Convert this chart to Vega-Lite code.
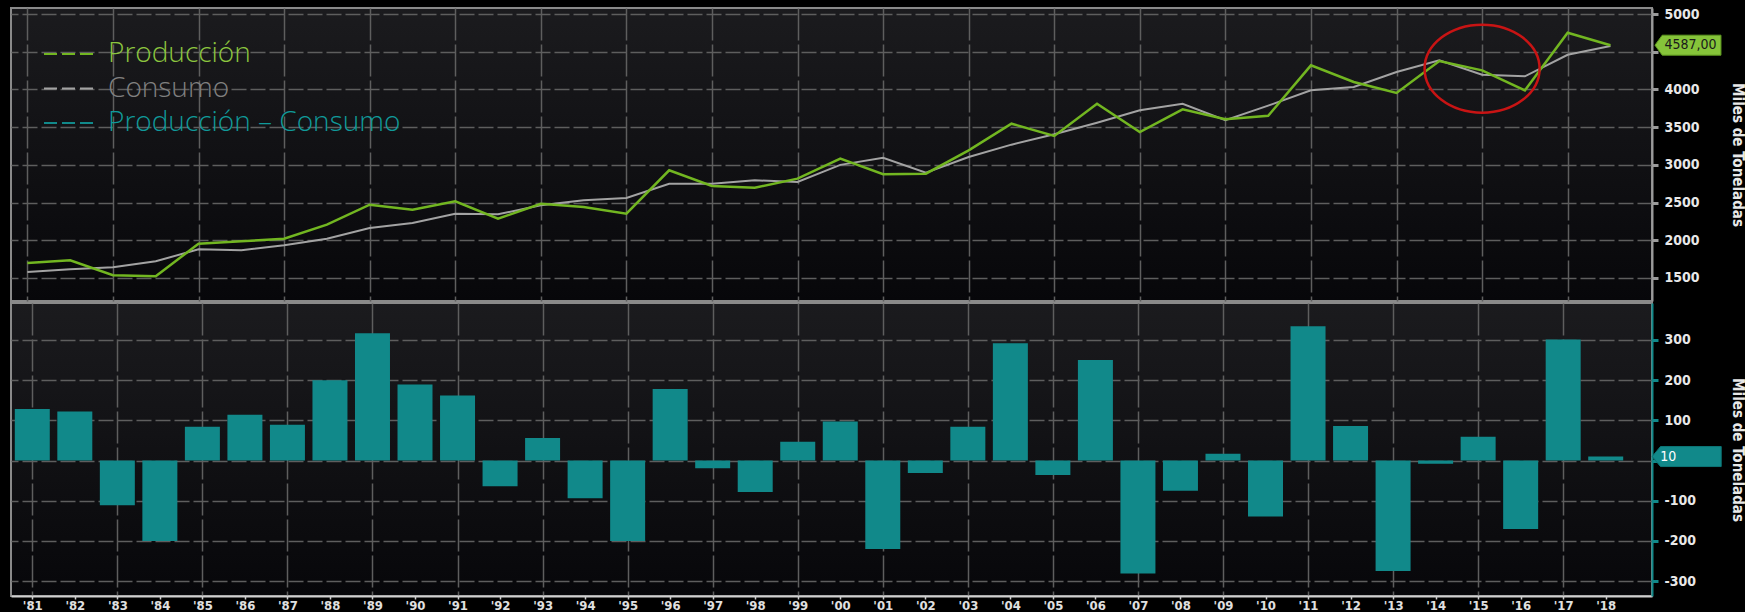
{
  "$schema": "https://vega.github.io/schema/vega-lite/v6.json",
  "background": "#000000",
  "padding": {"left": 10, "top": 6, "right": 0, "bottom": 0},
  "datasets": {
    "lineas": [
      {"anio": 1981, "serie": "Producción", "valor": 1700}, {"anio": 1982, "serie": "Producción", "valor": 1735},
      {"anio": 1983, "serie": "Producción", "valor": 1536}, {"anio": 1984, "serie": "Producción", "valor": 1523},
      {"anio": 1985, "serie": "Producción", "valor": 1955}, {"anio": 1986, "serie": "Producción", "valor": 1986},
      {"anio": 1987, "serie": "Producción", "valor": 2021}, {"anio": 1988, "serie": "Producción", "valor": 2207},
      {"anio": 1989, "serie": "Producción", "valor": 2472}, {"anio": 1990, "serie": "Producción", "valor": 2406},
      {"anio": 1991, "serie": "Producción", "valor": 2517}, {"anio": 1992, "serie": "Producción", "valor": 2286},
      {"anio": 1993, "serie": "Producción", "valor": 2485}, {"anio": 1994, "serie": "Producción", "valor": 2441},
      {"anio": 1995, "serie": "Producción", "valor": 2353}, {"anio": 1996, "serie": "Producción", "valor": 2928},
      {"anio": 1997, "serie": "Producción", "valor": 2720}, {"anio": 1998, "serie": "Producción", "valor": 2697},
      {"anio": 1999, "serie": "Producción", "valor": 2817}, {"anio": 2000, "serie": "Producción", "valor": 3082},
      {"anio": 2001, "serie": "Producción", "valor": 2875}, {"anio": 2002, "serie": "Producción", "valor": 2883},
      {"anio": 2003, "serie": "Producción", "valor": 3193}, {"anio": 2004, "serie": "Producción", "valor": 3546},
      {"anio": 2005, "serie": "Producción", "valor": 3383}, {"anio": 2006, "serie": "Producción", "valor": 3811},
      {"anio": 2007, "serie": "Producción", "valor": 3436}, {"anio": 2008, "serie": "Producción", "valor": 3736},
      {"anio": 2009, "serie": "Producción", "valor": 3604}, {"anio": 2010, "serie": "Producción", "valor": 3650},
      {"anio": 2011, "serie": "Producción", "valor": 4320}, {"anio": 2012, "serie": "Producción", "valor": 4099},
      {"anio": 2013, "serie": "Producción", "valor": 3953}, {"anio": 2014, "serie": "Producción", "valor": 4377},
      {"anio": 2015, "serie": "Producción", "valor": 4253}, {"anio": 2016, "serie": "Producción", "valor": 3988},
      {"anio": 2017, "serie": "Producción", "valor": 4752}, {"anio": 2018, "serie": "Producción", "valor": 4587},
      {"anio": 1981, "serie": "Consumo", "valor": 1580}, {"anio": 1982, "serie": "Consumo", "valor": 1615},
      {"anio": 1983, "serie": "Consumo", "valor": 1642}, {"anio": 1984, "serie": "Consumo", "valor": 1721},
      {"anio": 1985, "serie": "Consumo", "valor": 1881}, {"anio": 1986, "serie": "Consumo", "valor": 1867},
      {"anio": 1987, "serie": "Consumo", "valor": 1934}, {"anio": 1988, "serie": "Consumo", "valor": 2021},
      {"anio": 1989, "serie": "Consumo", "valor": 2163}, {"anio": 1990, "serie": "Consumo", "valor": 2229},
      {"anio": 1991, "serie": "Consumo", "valor": 2353}, {"anio": 1992, "serie": "Consumo", "valor": 2345},
      {"anio": 1993, "serie": "Consumo", "valor": 2464}, {"anio": 1994, "serie": "Consumo", "valor": 2530},
      {"anio": 1995, "serie": "Consumo", "valor": 2561}, {"anio": 1996, "serie": "Consumo", "valor": 2750},
      {"anio": 1997, "serie": "Consumo", "valor": 2750}, {"anio": 1998, "serie": "Consumo", "valor": 2795},
      {"anio": 1999, "serie": "Consumo", "valor": 2773}, {"anio": 2000, "serie": "Consumo", "valor": 3000},
      {"anio": 2001, "serie": "Consumo", "valor": 3095}, {"anio": 2002, "serie": "Consumo", "valor": 2896},
      {"anio": 2003, "serie": "Consumo", "valor": 3104}, {"anio": 2004, "serie": "Consumo", "valor": 3268},
      {"anio": 2005, "serie": "Consumo", "valor": 3405}, {"anio": 2006, "serie": "Consumo", "valor": 3559},
      {"anio": 2007, "serie": "Consumo", "valor": 3723}, {"anio": 2008, "serie": "Consumo", "valor": 3811},
      {"anio": 2009, "serie": "Consumo", "valor": 3591}, {"anio": 2010, "serie": "Consumo", "valor": 3785},
      {"anio": 2011, "serie": "Consumo", "valor": 3988}, {"anio": 2012, "serie": "Consumo", "valor": 4032},
      {"anio": 2013, "serie": "Consumo", "valor": 4231}, {"anio": 2014, "serie": "Consumo", "valor": 4386},
      {"anio": 2015, "serie": "Consumo", "valor": 4196}, {"anio": 2016, "serie": "Consumo", "valor": 4174},
      {"anio": 2017, "serie": "Consumo", "valor": 4460}, {"anio": 2018, "serie": "Consumo", "valor": 4577}
    ],
    "barras": [
      {"anio": 1981, "serie": "Producción – Consumo", "valor": 128}, {"anio": 1982, "serie": "Producción – Consumo", "valor": 122},
      {"anio": 1983, "serie": "Producción – Consumo", "valor": -111}, {"anio": 1984, "serie": "Producción – Consumo", "valor": -200},
      {"anio": 1985, "serie": "Producción – Consumo", "valor": 84}, {"anio": 1986, "serie": "Producción – Consumo", "valor": 114},
      {"anio": 1987, "serie": "Producción – Consumo", "valor": 89}, {"anio": 1988, "serie": "Producción – Consumo", "valor": 200},
      {"anio": 1989, "serie": "Producción – Consumo", "valor": 317}, {"anio": 1990, "serie": "Producción – Consumo", "valor": 189},
      {"anio": 1991, "serie": "Producción – Consumo", "valor": 162}, {"anio": 1992, "serie": "Producción – Consumo", "valor": -64},
      {"anio": 1993, "serie": "Producción – Consumo", "valor": 56}, {"anio": 1994, "serie": "Producción – Consumo", "valor": -94},
      {"anio": 1995, "serie": "Producción – Consumo", "valor": -200}, {"anio": 1996, "serie": "Producción – Consumo", "valor": 178},
      {"anio": 1997, "serie": "Producción – Consumo", "valor": -19}, {"anio": 1998, "serie": "Producción – Consumo", "valor": -78},
      {"anio": 1999, "serie": "Producción – Consumo", "valor": 47}, {"anio": 2000, "serie": "Producción – Consumo", "valor": 97},
      {"anio": 2001, "serie": "Producción – Consumo", "valor": -220}, {"anio": 2002, "serie": "Producción – Consumo", "valor": -31},
      {"anio": 2003, "serie": "Producción – Consumo", "valor": 84}, {"anio": 2004, "serie": "Producción – Consumo", "valor": 292},
      {"anio": 2005, "serie": "Producción – Consumo", "valor": -36}, {"anio": 2006, "serie": "Producción – Consumo", "valor": 250},
      {"anio": 2007, "serie": "Producción – Consumo", "valor": -281}, {"anio": 2008, "serie": "Producción – Consumo", "valor": -75},
      {"anio": 2009, "serie": "Producción – Consumo", "valor": 17}, {"anio": 2010, "serie": "Producción – Consumo", "valor": -139},
      {"anio": 2011, "serie": "Producción – Consumo", "valor": 334}, {"anio": 2012, "serie": "Producción – Consumo", "valor": 86},
      {"anio": 2013, "serie": "Producción – Consumo", "valor": -275}, {"anio": 2014, "serie": "Producción – Consumo", "valor": -8},
      {"anio": 2015, "serie": "Producción – Consumo", "valor": 59}, {"anio": 2016, "serie": "Producción – Consumo", "valor": -170},
      {"anio": 2017, "serie": "Producción – Consumo", "valor": 301}, {"anio": 2018, "serie": "Producción – Consumo", "valor": 10}
    ]
  },
  "spacing": 0,
  "resolve": {"scale": {"x": "independent", "y": "independent", "color": "shared"}, "legend": {"color": "shared"}},
  "vconcat": [
    {
      "width": 1641,
      "height": 293,
      "data": {"name": "lineas"},
      "encoding": {
        "x": {
          "field": "anio", "type": "quantitative",
          "scale": {"domain": [1980.617, 2018.971], "nice": false, "zero": false},
          "axis": {
            "values": [1981, 1983, 1985, 1987, 1989, 1991, 1993, 1995, 1997, 1999, 2001, 2003, 2005, 2007, 2009, 2011, 2013, 2015, 2017],
            "labels": false, "ticks": false, "domain": false, "grid": true, "gridDash": [32, 4],
            "title": null, "minExtent": 0, "maxExtent": 0
          }
        },
        "y": {
          "field": "valor", "type": "quantitative",
          "scale": {"domain": [1195, 5080], "nice": false, "zero": false},
          "axis": {
            "orient": "right",
            "values": [1500, 2000, 2500, 3000, 3500, 4000, 4500, 5000],
            "labelExpr": "datum.value === 4500 ? '' : toString(datum.value)",
            "title": "Miles de Toneladas",
            "grid": true, "gridDash": [15, 4],
            "tickSize": 6, "tickWidth": 3, "tickColor": "#9a9a9a",
            "domainColor": "#9a9a9a", "domainWidth": 2,
            "labelPadding": 6, "labelFontSize": 14,
            "titleFontSize": 15, "titlePadding": 27,
            "minExtent": 50, "maxExtent": 50
          }
        }
      },
      "layer": [
        {
          "transform": [{"filter": "datum.serie === 'Consumo'"}],
          "mark": {"type": "line", "strokeWidth": 2},
          "encoding": {
            "color": {
              "field": "serie", "type": "nominal",
              "scale": {"domain": ["Producción", "Consumo", "Producción – Consumo"], "range": ["#72b621", "#a3a3a3", "#11898a"]},
              "legend": {
                "orient": "none", "legendX": 44, "legendY": 32, "title": null,
                "symbolType": "M-2,0H2", "symbolSize": 625, "symbolStrokeWidth": 2, "symbolDash": [13, 5],
                "labelFontSize": 28, "labelFont": "Open Sans", "labelFontWeight": 300, "labelOffset": 25,
                "labelLimit": 500, "rowPadding": 6.5, "padding": 0,
                "encode": {
                  "labels": {"update": {"fill": {"signal": "datum.value === 'Producción' ? '#8cc63f' : datum.value === 'Consumo' ? '#808080' : '#109a9a'"}}},
                  "symbols": {"update": {
                    "stroke": {"signal": "datum.value === 'Producción' ? '#7bbf2c' : datum.value === 'Consumo' ? '#9a9a9a' : '#0f9696'"},
                    "fill": {"value": "transparent"},
                    "strokeDash": {"value": [13, 5]},
                    "opacity": {"value": 1}
                  }}
                }
              }
            }
          }
        },
        {
          "transform": [{"filter": "datum.serie === 'Producción'"}],
          "mark": {"type": "line", "strokeWidth": 2.5},
          "encoding": {"color": {"field": "serie", "type": "nominal"}}
        },
        {
          "data": {"values": [{"anio": 2015, "valor": 4275}]},
          "mark": {"type": "point", "shape": "M-1,0A1,0.765,0,1,0,1,0A1,0.765,0,1,0,-1,0Z", "size": 13225, "filled": false, "color": "#c81414", "strokeWidth": 2.5, "opacity": 1}
        },
        {
          "transform": [{"filter": "datum.serie === 'Producción' && datum.anio === 2018"}],
          "mark": {"type": "point", "shape": "M-1,0L-0.78,-0.303L1,-0.303L1,0.303L-0.78,0.303Z", "size": 4356, "filled": true, "fill": "#86c43a", "stroke": "#5f9a20", "strokeWidth": 1, "opacity": 1, "xOffset": 77.5, "clip": false}
        },
        {
          "transform": [
            {"filter": "datum.serie === 'Producción' && datum.anio === 2018"},
            {"calculate": "replace(format(datum.valor, '.2f'), '.', ',')", "as": "etiqueta"}
          ],
          "mark": {"type": "text", "xOffset": 80, "align": "center", "baseline": "middle", "fontSize": 14, "font": "DejaVu Sans Condensed", "color": "#1a1a1a", "clip": false},
          "encoding": {"text": {"field": "etiqueta"}}
        }
      ]
    },
    {
      "width": 1641,
      "height": 293,
      "data": {"name": "barras"},
      "encoding": {
        "x": {
          "field": "anio", "type": "quantitative",
          "scale": {"domain": [1980.617, 2018.971], "nice": false, "zero": false},
          "axis": {
            "values": [1981, 1982, 1983, 1984, 1985, 1986, 1987, 1988, 1989, 1990, 1991, 1992, 1993, 1994, 1995, 1996, 1997, 1998, 1999, 2000, 2001, 2002, 2003, 2004, 2005, 2006, 2007, 2008, 2009, 2010, 2011, 2012, 2013, 2014, 2015, 2016, 2017, 2018],
            "labelExpr": "\"'\" + substring(toString(datum.value), 2)",
            "labelFontSize": 13, "labelPadding": 0, "labelColor": "#e0e0e0",
            "ticks": true, "tickSize": 3, "tickColor": "#cfcfcf", "tickWidth": 1.5,
            "domain": true, "domainColor": "#d0d0d0", "domainWidth": 2,
            "grid": true, "gridDash": [32, 4],
            "gridOpacity": {"condition": {"test": "datum.value % 2 === 1", "value": 1}, "value": 0},
            "title": null, "labelOverlap": false
          }
        },
        "y": {
          "field": "valor", "type": "quantitative",
          "scale": {"domain": [-337, 392], "nice": false, "zero": false},
          "axis": {
            "orient": "right",
            "values": [-300, -200, -100, 0, 100, 200, 300],
            "labelExpr": "datum.value === 0 ? '' : toString(datum.value)",
            "title": "Miles de Toneladas",
            "grid": true, "gridDash": [15, 4],
            "tickSize": 6, "tickWidth": 3, "tickColor": "#11898a",
            "domainColor": "#11898a", "domainWidth": 2,
            "labelPadding": 6, "labelFontSize": 14,
            "titleFontSize": 15, "titlePadding": 27,
            "minExtent": 50, "maxExtent": 50
          }
        }
      },
      "layer": [
        {
          "mark": {"type": "bar", "width": 35},
          "encoding": {"color": {"field": "serie", "type": "nominal"}}
        },
        {
          "transform": [{"filter": "datum.anio === 2018"}],
          "mark": {"type": "point", "shape": "M-1,0L-0.76,-0.29L1,-0.29L1,0.29L-0.76,0.29Z", "size": 4761, "filled": true, "fill": "#11898a", "stroke": "#0d7475", "strokeWidth": 1, "opacity": 1, "xOffset": 81, "clip": false}
        },
        {
          "transform": [{"filter": "datum.anio === 2018"}],
          "mark": {"type": "text", "xOffset": 54.5, "align": "left", "baseline": "middle", "fontSize": 14, "font": "DejaVu Sans Condensed", "color": "#ffffff", "clip": false},
          "encoding": {"text": {"field": "valor"}}
        }
      ]
    }
  ],
  "config": {
    "view": {
      "stroke": "#8a8a8a", "strokeWidth": 2,
      "fill": {"gradient": "linear", "x1": 0, "y1": 0, "x2": 0, "y2": 1, "stops": [{"offset": 0, "color": "#1b1b1e"}, {"offset": 1, "color": "#07070a"}]}
    },
    "axis": {
      "gridColor": "#5e5e5e", "gridWidth": 1.5,
      "labelFont": "DejaVu Sans Condensed", "labelFontWeight": "bold", "labelColor": "#e8e8e8",
      "titleFont": "DejaVu Sans Condensed", "titleFontWeight": "bold", "titleColor": "#e8e8e8"
    }
  }
}
